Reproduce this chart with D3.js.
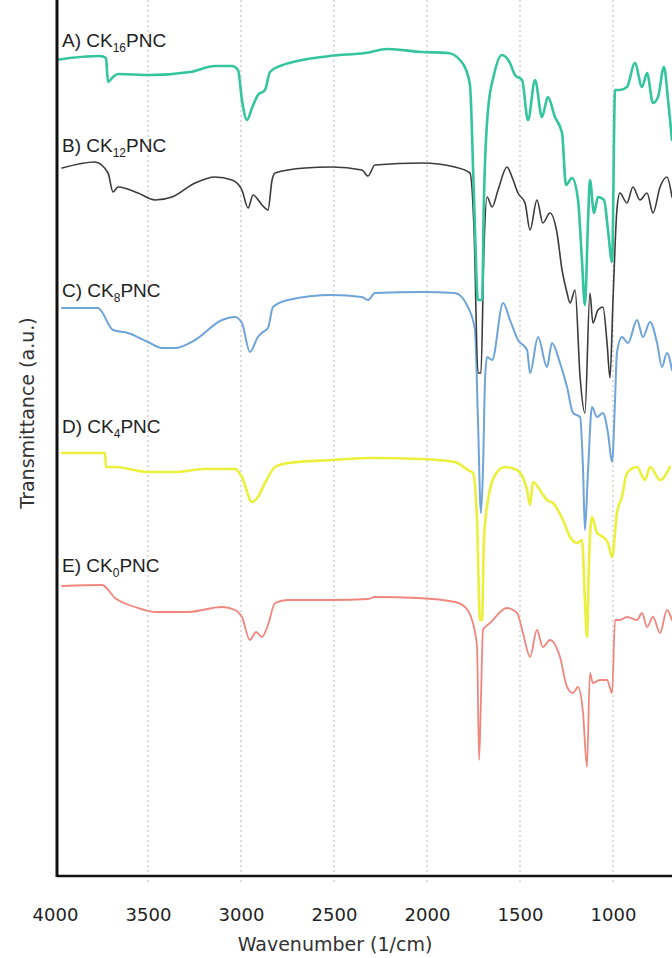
<!DOCTYPE html>
<html>
<head>
<meta charset="utf-8">
<script src="https://cdn.jsdelivr.net/npm/d3@7/dist/d3.min.js"></script>
<style>
  body { margin: 0; background: #fff; }
  svg { display: block; }
</style>
</head>
<body>
<svg id="chart" width="672" height="958"></svg>
<script>
// FTIR spectra, stacked with vertical offsets (transmittance, arbitrary units)
const xTicks = [4000, 3500, 3000, 2500, 2000, 1500, 1000];

const seriesLabels = [
  { tag: "A) CK", sub: "16", tail: "PNC" },
  { tag: "B) CK", sub: "12", tail: "PNC" },
  { tag: "C) CK", sub: "8", tail: "PNC" },
  { tag: "D) CK", sub: "4", tail: "PNC" },
  { tag: "E) CK", sub: "0", tail: "PNC" }
];
const seriesColors = ["#34c49e", "#3b3b3b", "#6ea4d9", "#eaf03c", "#f0877e"];

const wnA = [4000,3919,3758,3726,3715,3688,3661,3489,3274,3140,3048,3016,2995,2968,2941,2909,2871,2844,2790,2522,2333,2210,2027,1887,1823,1790,1769,1747,1726,1704,1694,1672,1640,1597,1554,1527,1489,1457,1419,1382,1350,1312,1274,1253,1220,1188,1167,1151,1134,1124,1102,1081,1048,1027,1005,989,963,925,882,844,817,785,758,726,704,683];
const tA  = [81.6,81.8,82.0,81.8,79.4,79.9,80.2,80.1,80.4,81.0,81.0,80.6,77.6,75.6,76.8,78.1,78.6,80.4,81.0,82.0,82.3,82.7,82.4,82.3,81.6,80.6,79.1,67.6,57.6,57.6,67.6,76.6,80.1,82.1,81.3,80.1,79.6,75.6,79.6,75.9,77.9,75.9,74.3,69.1,69.8,67.6,61.6,57.1,65.6,69.6,66.3,67.9,67.6,64.6,61.4,78.6,78.6,78.9,81.3,78.9,80.3,77.3,77.9,80.9,77.6,73.6];

const wnB = [3962,3785,3715,3688,3661,3554,3462,3371,3247,3140,3048,2995,2962,2935,2887,2855,2833,2817,2656,2511,2350,2317,2280,2027,1850,1769,1747,1726,1710,1694,1677,1650,1618,1570,1543,1511,1473,1446,1409,1377,1339,1301,1274,1247,1231,1204,1177,1151,1124,1108,1081,1054,1032,1016,1000,979,963,925,893,855,817,785,747,710,683];
const tB  = [70.8,71.4,70.3,68.4,68.9,68.3,67.6,67.9,69.3,69.9,69.6,68.6,66.8,68.1,67.1,66.6,69.6,70.3,70.8,70.9,70.6,70.0,71.1,71.3,70.9,70.3,64.6,50.3,50.3,62.6,67.9,66.9,68.6,70.9,69.9,68.3,67.3,64.6,67.6,65.3,66.3,64.3,60.6,58.3,57.3,58.6,49.9,46.3,58.3,55.3,56.6,56.9,53.3,49.8,57.6,66.6,68.3,67.3,68.9,67.6,68.3,66.3,68.9,69.9,67.9];

const wnC = [3962,3769,3688,3608,3500,3425,3355,3247,3102,3032,2995,2952,2909,2882,2855,2828,2747,2511,2350,2317,2280,2027,1850,1780,1742,1726,1710,1699,1688,1677,1650,1591,1554,1511,1462,1446,1403,1355,1328,1285,1247,1215,1177,1161,1151,1134,1113,1086,1054,1027,1005,989,979,952,919,871,839,801,763,737,710,683];
const tC  = [56.8,56.8,54.6,54.3,53.4,52.8,52.8,53.6,55.6,55.9,55.3,52.4,53.9,54.4,54.8,56.9,57.6,58.1,57.9,57.6,58.3,58.4,58.3,56.9,54.6,45.6,36.3,40.6,49.6,51.9,51.6,57.3,55.6,53.6,52.6,50.3,53.9,50.9,53.3,51.3,48.9,46.3,45.9,40.6,34.6,40.6,46.9,45.9,46.3,44.3,41.4,47.6,52.3,53.9,53.3,55.6,53.9,55.4,53.3,50.9,52.3,50.6];

const wnD = [3962,3731,3726,3677,3500,3355,3194,3032,2995,2941,2909,2871,2817,2747,2511,2296,2027,1850,1780,1753,1731,1715,1704,1694,1672,1634,1581,1516,1462,1446,1430,1393,1355,1323,1269,1231,1193,1167,1151,1140,1129,1113,1086,1054,1027,1005,979,952,925,871,828,801,747,694];
const tD  = [42.3,42.3,40.9,40.9,40.4,40.4,40.7,40.7,39.9,37.4,37.9,39.3,40.9,41.3,41.6,41.8,41.7,41.4,40.6,40.3,35.6,25.6,25.6,33.6,37.6,40.1,40.9,40.6,38.6,37.1,39.4,38.6,37.6,37.3,35.6,33.9,33.3,33.6,27.6,23.9,31.6,35.9,34.3,33.9,33.3,31.9,36.3,37.9,40.3,40.9,39.6,40.9,39.6,40.9];

const wnE = [3962,3747,3677,3570,3462,3285,3102,3032,2995,2952,2919,2887,2855,2817,2747,2511,2317,2280,2049,1850,1796,1758,1731,1720,1710,1699,1661,1570,1516,1484,1446,1409,1377,1339,1285,1247,1215,1188,1161,1140,1124,1108,1070,1032,1005,989,963,925,871,844,817,785,747,710,683];
const tE  = [29.0,29.1,27.8,26.9,26.4,26.4,26.9,26.6,25.9,23.6,24.4,23.9,25.1,27.3,27.6,27.6,27.7,27.9,27.8,27.4,26.9,25.6,22.9,11.6,17.6,24.6,25.3,26.8,26.3,24.3,21.9,24.6,22.9,23.6,21.9,18.9,18.3,18.9,16.3,10.9,20.3,19.3,19.6,19.6,18.3,25.6,25.6,25.9,25.6,26.3,24.9,25.9,24.3,26.6,25.6];

const spectra = [
  { wn: wnA, t: tA, width: 2.6 },
  { wn: wnB, t: tB, width: 1.6 },
  { wn: wnC, t: tC, width: 2.0 },
  { wn: wnD, t: tD, width: 2.6 },
  { wn: wnE, t: tE, width: 1.8 }
];
const labelBaselines = [47, 152, 297, 433, 572];

const W = 672, H = 958;
const plot = { left: 57, top: 0, bottom: 876 };

const svg = d3.select("#chart");

const x = d3.scaleLinear().domain([4000, 400]).range([55, 55 + 3600 * 0.186]);
const y = d3.scaleLinear().domain([0, 87.6]).range([plot.bottom, plot.top]);

svg.append("clipPath").attr("id", "plotClip")
  .append("rect").attr("x", plot.left).attr("y", 0)
  .attr("width", W - plot.left).attr("height", plot.bottom);

// dotted vertical grid
svg.append("g").selectAll("line").data(xTicks.slice(1)).join("line")
  .attr("x1", d => x(d)).attr("x2", d => x(d))
  .attr("y1", 0).attr("y2", plot.bottom + 7)
  .attr("stroke", "#c4c4c4").attr("stroke-width", 1.2)
  .attr("stroke-dasharray", "2,3");

// spectra, bottom trace first so upper traces sit on top
const line = d3.line()
  .x(d => x(d[0])).y(d => y(d[1]))
  .curve(d3.curveMonotoneX);

const gLines = svg.append("g").attr("clip-path", "url(#plotClip)");
for (let i = spectra.length - 1; i >= 0; i--) {
  const s = spectra[i];
  const pts = s.wn.map((w, k) => [w, s.t[k]]).sort((a, b) => b[0] - a[0]);
  gLines.append("path")
    .attr("d", line(pts))
    .attr("fill", "none")
    .attr("stroke", seriesColors[i])
    .attr("stroke-width", s.width)
    .attr("stroke-linejoin", "round")
    .attr("stroke-linecap", "round");
}

// series labels
const gLab = svg.append("g")
  .attr("font-family", "'Liberation Sans', Arial, sans-serif")
  .attr("font-size", 19).attr("fill", "#222");
seriesLabels.forEach((lab, i) => {
  const t = gLab.append("text").attr("x", 62).attr("y", labelBaselines[i]);
  t.append("tspan").text(lab.tag);
  t.append("tspan").attr("font-size", 12).attr("dy", 5).text(lab.sub);
  t.append("tspan").attr("dy", -5).text(lab.tail);
});

// x axis
const xAxis = d3.axisBottom(x).tickValues(xTicks).tickSize(0).tickPadding(0).tickFormat(d3.format("d"));
const gx = svg.append("g").attr("transform", `translate(0,${plot.bottom})`).call(xAxis);
gx.select(".domain").remove();
gx.selectAll("text")
  .attr("y", 45).attr("dy", 0)
  .attr("font-family", "'DejaVu Sans', sans-serif")
  .attr("font-size", 18).attr("fill", "#222");

svg.append("line")
  .attr("x1", plot.left).attr("x2", W)
  .attr("y1", plot.bottom).attr("y2", plot.bottom)
  .attr("stroke", "#111").attr("stroke-width", 2.5);

// y axis line (no ticks, arbitrary units)
svg.append("line")
  .attr("x1", plot.left).attr("x2", plot.left)
  .attr("y1", 0).attr("y2", plot.bottom + 1)
  .attr("stroke", "#111").attr("stroke-width", 3);

// axis titles
svg.append("text")
  .attr("x", 335).attr("y", 951)
  .attr("text-anchor", "middle")
  .attr("font-family", "'DejaVu Sans', sans-serif")
  .attr("font-size", 19).attr("fill", "#333")
  .text("Wavenumber (1/cm)");

svg.append("text")
  .attr("transform", "translate(34,413) rotate(-90)")
  .attr("text-anchor", "middle")
  .attr("font-family", "'DejaVu Sans', sans-serif")
  .attr("font-size", 19).attr("fill", "#333")
  .text("Transmittance (a.u.)");
</script>
</body>
</html>
